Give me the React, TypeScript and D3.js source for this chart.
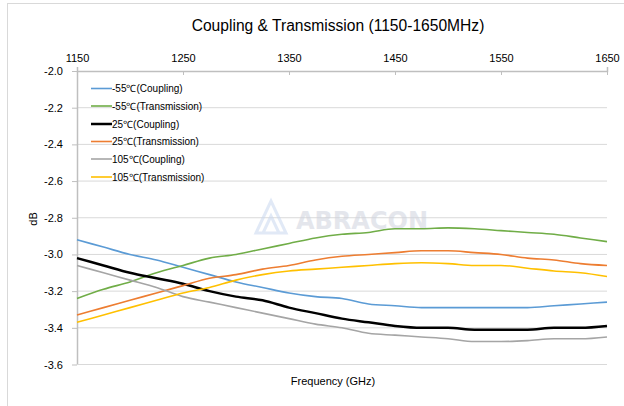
import React, { useEffect, useRef } from 'react';
import * as d3 from 'd3';

const freqs = [1150, 1175, 1200, 1225, 1250, 1275, 1300, 1325, 1350, 1375, 1400, 1425, 1450, 1475, 1500, 1525, 1550, 1575, 1600, 1625, 1650];

const coupM55 = [-2.92, -2.96, -3.0, -3.03, -3.07, -3.11, -3.15, -3.18, -3.21, -3.23, -3.24, -3.27, -3.28, -3.29, -3.29, -3.29, -3.29, -3.29, -3.28, -3.27, -3.26];
const tranM55 = [-3.24, -3.19, -3.15, -3.1, -3.06, -3.02, -3.0, -2.97, -2.94, -2.91, -2.89, -2.88, -2.86, -2.86, -2.855, -2.86, -2.87, -2.88, -2.89, -2.91, -2.93];
const coup25 = [-3.02, -3.06, -3.1, -3.13, -3.16, -3.2, -3.23, -3.25, -3.29, -3.32, -3.35, -3.37, -3.39, -3.4, -3.4, -3.41, -3.41, -3.41, -3.4, -3.4, -3.39];
const tran25 = [-3.33, -3.29, -3.25, -3.21, -3.17, -3.13, -3.11, -3.08, -3.06, -3.03, -3.01, -3.0, -2.99, -2.98, -2.98, -2.99, -3.0, -3.02, -3.03, -3.05, -3.06];
const coup105 = [-3.06, -3.1, -3.14, -3.18, -3.23, -3.26, -3.29, -3.32, -3.35, -3.38, -3.4, -3.43, -3.44, -3.45, -3.46, -3.475, -3.475, -3.47, -3.46, -3.46, -3.45];
const tran105 = [-3.37, -3.33, -3.29, -3.25, -3.21, -3.18, -3.14, -3.11, -3.09, -3.08, -3.07, -3.06, -3.05, -3.045, -3.05, -3.06, -3.06, -3.075, -3.09, -3.1, -3.12];

const seriesNames = ['-55℃(Coupling)', '-55℃(Transmission)', '25℃(Coupling)', '25℃(Transmission)', '105℃(Coupling)', '105℃(Transmission)'];
const seriesValues = [coupM55, tranM55, coup25, tran25, coup105, tran105];
const seriesColors = ['#5B9BD5', '#70AD47', '#000000', '#ED7D31', '#A5A5A5', '#FFC000'];

const xTicks = [1150, 1250, 1350, 1450, 1550, 1650];
const yTicks = [-2.0, -2.2, -2.4, -2.6, -2.8, -3.0, -3.2, -3.4, -3.6];

export default function App() {
  const ref = useRef<SVGSVGElement>(null);

  useEffect(() => {
    const svg = d3.select(ref.current);
    svg.selectAll('*').remove();
    const font = 'Liberation Sans, Arial, sans-serif';

    const x = d3.scaleLinear().domain([1150, 1650]).range([77, 607]);
    const y = d3.scaleLinear().domain([-2.0, -3.6]).range([71, 364.5]);

    // outer border
    svg.append('rect')
      .attr('x', 7.5).attr('y', 3.5).attr('width', 640).attr('height', 440)
      .attr('fill', '#fff').attr('stroke', '#d9d9d9');

    svg.append('text')
      .attr('x', 338).attr('y', 31)
      .attr('text-anchor', 'middle')
      .attr('font-family', font).attr('font-size', 15.6)
      .text('Coupling & Transmission (1150-1650MHz)');

    // gridlines
    svg.append('g').selectAll('line').data(yTicks.slice(1)).join('line')
      .attr('x1', 77).attr('x2', 607)
      .attr('y1', d => y(d)).attr('y2', d => y(d))
      .attr('stroke', '#d9d9d9').attr('stroke-width', 1);

    // watermark
    const wm = svg.append('g').attr('opacity', 0.55);
    wm.append('path')
      .attr('d', 'M256,233 L271,201 L286,233 Z M263,233 L271,216 L279,233')
      .attr('fill', 'none').attr('stroke', '#c9d8f0').attr('stroke-width', 3);
    wm.append('text')
      .attr('x', 296).attr('y', 229)
      .attr('font-family', 'DejaVu Sans, sans-serif').attr('font-weight', 'bold')
      .attr('font-size', 24).attr('fill', '#cfd3de')
      .text('ABRACON');

    // top x axis
    const xAxis = d3.axisTop(x).tickValues(xTicks).tickSize(4).tickSizeOuter(4).tickFormat(d3.format('d'));
    const gx = svg.append('g').attr('transform', 'translate(0,71)').call(xAxis);
    gx.select('.domain').attr('stroke', '#bfbfbf').attr('stroke-width', 1.5);
    gx.selectAll('.tick line').attr('stroke', '#bfbfbf').attr('y2', 4);
    gx.selectAll('.tick text').attr('font-family', font).attr('font-size', 11).attr('fill', '#000').attr('y', -9);

    // left y axis
    const yAxis = d3.axisLeft(y).tickValues(yTicks).tickSize(5).tickSizeOuter(0)
      .tickFormat(d => (d as number).toFixed(1));
    const gy = svg.append('g').attr('transform', 'translate(77,0)').call(yAxis);
    gy.select('.domain').attr('stroke', '#bfbfbf').attr('stroke-width', 1.5);
    gy.selectAll('.tick line').attr('stroke', '#bfbfbf');
    gy.selectAll('.tick text').attr('font-family', font).attr('font-size', 11).attr('fill', '#000').attr('x', -14);

    svg.append('line')
      .attr('x1', 77).attr('x2', 607).attr('y1', y(-3.6)).attr('y2', y(-3.6))
      .attr('stroke', '#d9d9d9');

    const line = d3.line<number>()
      .x((_, i) => x(freqs[i]))
      .y(d => y(d))
      .curve(d3.curveMonotoneX);

    seriesValues.forEach((vals, i) => {
      svg.append('path')
        .datum(vals)
        .attr('d', line)
        .attr('fill', 'none')
        .attr('stroke', seriesColors[i])
        .attr('stroke-width', i === 2 ? 2.5 : 1.6)
        .attr('stroke-linejoin', 'round');
    });

    // legend
    const legendY = [88.5, 106, 124, 141.5, 159, 177];
    const lg = svg.append('g');
    seriesNames.forEach((name, i) => {
      lg.append('line')
        .attr('x1', 91).attr('x2', 112)
        .attr('y1', legendY[i]).attr('y2', legendY[i])
        .attr('stroke', seriesColors[i]).attr('stroke-width', i === 2 ? 2.5 : 1.6);
      lg.append('text')
        .attr('x', 112).attr('y', legendY[i] + 3.5)
        .attr('font-family', font).attr('font-size', 10)
        .text(name);
    });

    svg.append('text')
      .attr('x', 333).attr('y', 385)
      .attr('text-anchor', 'middle')
      .attr('font-family', font).attr('font-size', 11)
      .text('Frequency (GHz)');

    svg.append('text')
      .attr('transform', 'translate(37,219) rotate(-90)')
      .attr('text-anchor', 'middle')
      .attr('font-family', font).attr('font-size', 11)
      .text('dB');
  }, []);

  return (
    <div style={{ position: 'absolute', left: 0, top: 0 }}>
      <svg ref={ref} width={624} height={406} style={{ display: 'block' }} />
    </div>
  );
}
